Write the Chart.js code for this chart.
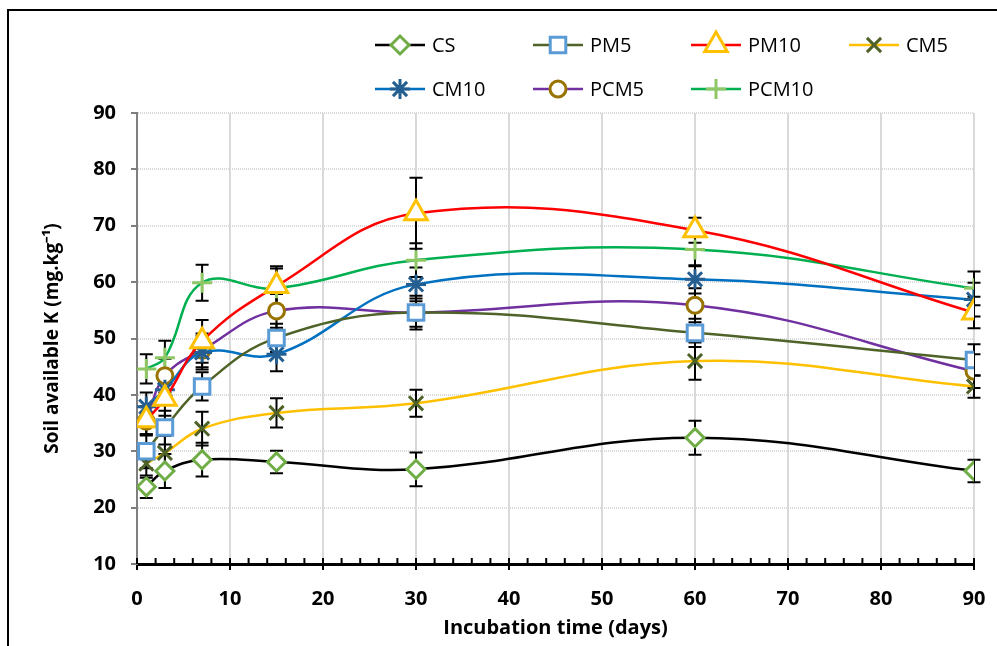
<!DOCTYPE html>
<html>
<head>
<meta charset="utf-8">
<script src="https://cdn.jsdelivr.net/npm/chart.js@4/dist/chart.umd.min.js"></script>
<style>
	html, body { margin: 0; padding: 0; background: #fff; }
	#wrap { position: relative; width: 997px; height: 646px; }
	#frame { position: absolute; left: 7px; top: 9px; right: -5px; bottom: -5px; border: 2px solid #000; }
	canvas { position: absolute; left: 0; top: 0; }
</style>
</head>
<body>
<div id="wrap">
	<div id="frame"></div>
	<canvas id="chart" width="997" height="646"></canvas>
</div>
<script>
const days = [1, 3, 7, 15, 30, 60, 90];
const seriesNames = ['CS', 'PM5', 'PM10', 'CM5', 'CM10', 'PCM5', 'PCM10'];

const cs = [23.7, 26.5, 28.5, 28.1, 26.8, 32.4, 26.5];
const pm5 = [30.0, 34.2, 41.5, 50.1, 54.6, 51.0, 46.2];
const pm10 = [35.5, 39.3, 49.5, 59.3, 72.2, 69.2, 54.6];
const cm5 = [27.8, 29.7, 34.0, 36.8, 38.5, 46.0, 41.5];
const cm10 = [37.9, 40.9, 47.5, 47.2, 59.6, 60.5, 56.9];
const pcm5 = [35.3, 43.4, 47.9, 54.9, 54.6, 55.9, 44.2];
const pcm10 = [44.6, 46.6, 59.9, 58.9, 63.9, 65.8, 58.9];

const csErr = [2.0, 3.0, 3.0, 2.0, 3.0, 3.0, 2.0];
const pm5Err = [3.0, 3.0, 2.5, 2.5, 2.5, 2.5, 2.8];
const pm10Err = [2.5, 3.0, 3.8, 3.5, 6.3, 2.2, 2.8];
const cm5Err = [2.5, 3.0, 3.0, 2.6, 2.4, 3.3, 2.0];
const cm10Err = [2.5, 2.5, 3.0, 3.0, 3.0, 2.5, 3.0];
const pcm5Err = [2.5, 3.0, 3.0, 3.0, 3.0, 3.0, 3.0];
const pcm10Err = [2.6, 3.0, 3.2, 3.5, 3.0, 3.0, 3.0];

const xTicks = [0, 10, 20, 30, 40, 50, 60, 70, 80, 90];
const xMinorTicks = [0, 2, 4, 6, 8, 10, 12, 14, 16, 18, 20, 22, 24, 26, 28, 30, 32, 34, 36, 38, 40, 42, 44, 46, 48, 50, 52, 54, 56, 58, 60, 62, 64, 66, 68, 70, 72, 74, 76, 78, 80, 82, 84, 86, 88, 90];
const yTicks = [10, 20, 30, 40, 50, 60, 70, 80, 90];

const tickFont = "'Open Sans', sans-serif";

const makeSet = (label, values, errors, lineColor, pointStyle, markColor, radius) => {
	return {
		label: label,
		data: days.map((d, i) => ({ x: d, y: values[i] })),
		errors: errors,
		showLine: true,
		borderColor: lineColor,
		borderWidth: 2.5,
		tension: 0.4,
		pointStyle: pointStyle,
		pointRadius: radius,
		pointHoverRadius: radius,
		pointBorderColor: markColor,
		pointBackgroundColor: '#fff',
		pointBorderWidth: 3,
	};
};

let datasets = [
	makeSet(seriesNames[0], cs, csErr, '#000000', 'rectRot', '#70ad47', 9),
	makeSet(seriesNames[1], pm5, pm5Err, '#4f6228', 'rect', '#5b9bd5', 11),
	makeSet(seriesNames[2], pm10, pm10Err, '#ff0000', 'triangle', '#ffc000', 13),
	makeSet(seriesNames[3], cm5, cm5Err, '#ffc000', 'crossRot', '#4f6228', 10),
	makeSet(seriesNames[4], cm10, cm10Err, '#0070c0', 'star', '#255e91', 10),
	makeSet(seriesNames[5], pcm5, pcm5Err, '#7030a0', 'circle', '#997300', 8),
	makeSet(seriesNames[6], pcm10, pcm10Err, '#00b050', 'cross', '#8fc765', 10),
];

// error bars, drawn under the markers
const errorBars = {
	id: 'errorBars',
	beforeDatasetsDraw(chart) {
		const ctx = chart.ctx;
		const xs = chart.scales.x, ys = chart.scales.y;
		ctx.save();
		ctx.strokeStyle = '#000';
		ctx.lineWidth = 2;
		chart.data.datasets.forEach((ds) => {
			ds.data.forEach((p, i) => {
				const e = ds.errors[i];
				const px = xs.getPixelForValue(p.x);
				const top = ys.getPixelForValue(p.y + e);
				const bot = ys.getPixelForValue(p.y - e);
				ctx.beginPath();
				ctx.moveTo(px, top); ctx.lineTo(px, bot);
				ctx.moveTo(px - 6.5, top); ctx.lineTo(px + 6.5, top);
				ctx.moveTo(px - 6.5, bot); ctx.lineTo(px + 6.5, bot);
				ctx.stroke();
			});
		});
		ctx.restore();
	}
};

// inward minor ticks on the x axis
const minorTicks = {
	id: 'minorTicks',
	afterDraw(chart) {
		const ctx = chart.ctx;
		const xs = chart.scales.x;
		const y0 = chart.chartArea.bottom;
		ctx.save();
		ctx.strokeStyle = '#000';
		ctx.lineWidth = 2;
		ctx.beginPath();
		xMinorTicks.forEach((v) => {
			const px = xs.getPixelForValue(v);
			ctx.moveTo(px, y0);
			ctx.lineTo(px, y0 - 6);
		});
		ctx.stroke();
		ctx.restore();
	}
};

// legend with line + marker, 4 per row
const lineLegend = {
	id: 'lineLegend',
	afterDraw(chart) {
		const ctx = chart.ctx;
		ctx.save();
		chart.data.datasets.forEach((ds, i) => {
			const x0 = 375 + (i % 4) * 158;
			const y = 45 + Math.floor(i / 4) * 44;
			ctx.strokeStyle = ds.borderColor;
			ctx.lineWidth = 2.5;
			ctx.beginPath();
			ctx.moveTo(x0, y); ctx.lineTo(x0 + 50, y);
			ctx.stroke();
			ctx.strokeStyle = ds.pointBorderColor;
			ctx.fillStyle = '#fff';
			ctx.lineWidth = 3;
			Chart.helpers.drawPoint(ctx, { pointStyle: ds.pointStyle, radius: ds.pointRadius, rotation: 0, borderWidth: 3 }, x0 + 25, y);
			ctx.fillStyle = '#000';
			ctx.font = "20px " + tickFont;
			ctx.textBaseline = 'middle';
			ctx.fillText(ds.label, x0 + 57, y + 1);
		});
		ctx.restore();
	}
};

new Chart(document.getElementById('chart'), {
	type: 'scatter',
	data: { datasets: datasets },
	plugins: [errorBars, minorTicks, lineLegend],
	options: {
		responsive: false,
		animation: false,
		layout: { padding: { left: 0, top: 113, right: 23, bottom: 0 } },
		plugins: { legend: { display: false }, tooltip: { enabled: false } },
		scales: {
			x: {
				type: 'linear', min: 0, max: 90,
				afterFit: (s) => { s.height = 82; s.paddingLeft = 0; s.paddingRight = 0; },
				afterBuildTicks: (s) => { s.ticks = xTicks.map(v => ({ value: v })); },
				grid: { color: '#d9d9d9', lineWidth: 2, tickLength: 6, tickColor: '#000', tickWidth: 2 },
				border: { color: '#000', width: 3 },
				ticks: { color: '#000', font: { family: tickFont, size: 20, weight: 'bold' }, padding: 17 },
				title: { display: true, text: 'Incubation time (days)', color: '#000', font: { family: tickFont, size: 20, weight: 'bold' }, padding: { top: 0, bottom: 6 } }
			},
			y: {
				min: 10, max: 90,
				afterFit: (s) => { s.width = 137; s.paddingTop = 0; s.paddingBottom = 0; },
				afterBuildTicks: (s) => { s.ticks = yTicks.map(v => ({ value: v })); },
				grid: { color: '#d9d9d9', lineWidth: 2, tickLength: 6, tickColor: '#7f7f7f' },
				border: { color: '#7f7f7f', width: 2, dash: [1, 1] },
				ticks: { color: '#000', font: { family: tickFont, size: 20, weight: 'bold' }, padding: 15 },
				title: { display: true, text: 'Soil available K (mg.kg\u207B\u00B9)', color: '#000', font: { family: tickFont, size: 19, weight: 'bold' }, padding: { top: 41, bottom: 0 } }
			}
		}
	}
});
</script>
</body>
</html>
